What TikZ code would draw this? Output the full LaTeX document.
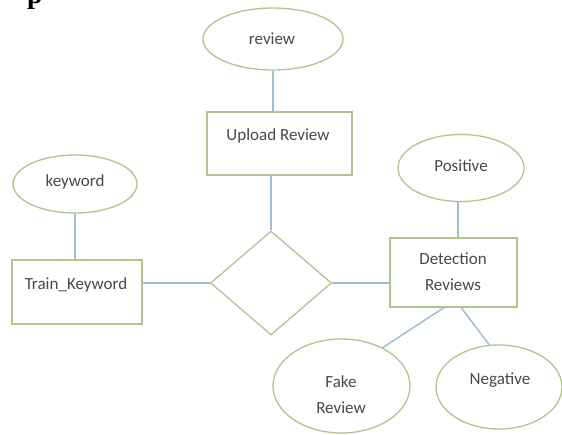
\documentclass[tikz,border=0pt]{standalone}
\usepackage{fontspec}
\setmainfont{Carlito}
\newfontfamily\cutfont{Liberation Serif}
\usepackage{tikz}
\usetikzlibrary{shapes.geometric, calc}
\usepackage{xcolor}
\definecolor{shapegreen}{RGB}{178,196,142}
\definecolor{linkblue}{RGB}{158,190,208}
\definecolor{wordgray}{RGB}{72,72,72}

\begin{document}
\begin{tikzpicture} [x=1pt, y=-1pt,
	entity/.style={draw=shapegreen, line width=1.3pt, rectangle, inner sep=0pt},
	attrib/.style={draw=shapegreen, line width=1.3pt, ellipse, inner sep=0pt},
	relation/.style={draw=shapegreen, line width=1.3pt, diamond, inner sep=0pt},
	word/.style={text=wordgray, font=\fontsize{17}{26}\selectfont, align=center, inner sep=0pt},
	link/.style={draw=linkblue, line width=1.5pt}]
					\useasboundingbox (0, 0) rectangle (562, 434);

					\node [anchor=base west, inner sep=0pt] (cutp) at (27, 3) {\cutfont\bfseries\fontsize{28}{28}\selectfont p};

					\node [attrib, minimum width=140, minimum height=62] (review) at (273, 39) {};
					\node [entity, minimum width=145, minimum height=63] (upload) at (279.5, 143.5) {};
					\node [relation, minimum width=121, minimum height=104] (diam) at (271, 283) {};
					\node [attrib, minimum width=124, minimum height=58] (keyword) at (75, 184) {};
					\node [entity, minimum width=130, minimum height=64] (train) at (77, 292) {};
					\node [attrib, minimum width=126, minimum height=67] (positive) at (461, 168) {};
					\node [entity, minimum width=127, minimum height=69] (detect) at (453.5, 272.5) {};
					\node [attrib, minimum width=137, minimum height=94] (fake) at (341.5, 386) {};
					\node [attrib, minimum width=126, minimum height=84] (negative) at (499, 387) {};

					\node [word] (reviewtxt) at (272, 39) {review};
					\node [word] (uploadtxt) at (278, 136) {Upload Review};
					\node [word] (keywordtxt) at (75, 182) {keyword};
					\node [word] (traintxt) at (76, 285) {Train\_Keyword};
					\node [word] (positivetxt) at (461, 166) {Positive};
					\node [word] (detecttxt) at (453, 272) {Detection\\Reviews};
					\node [word] (faketxt) at (341, 395) {Fake\\Review};
					\node [word] (negativetxt) at (500, 380) {Negative};

					\draw [link] (review.south) -- (review.south |- upload.north);
					\draw [link] (upload.south -| diam.north) -- (diam.north);
					\draw [link] (keyword.south) -- (keyword.south |- train.north);
					\draw [link] (train.east |- diam.west) -- (diam.west);
					\draw [link] (diam.east) -- (diam.east -| detect.west);
					\draw [link] ([xshift=-3pt]positive.south) -- ([xshift=-3pt]positive.south |- detect.north);
					\draw [link] ($(detect.south west)!0.425!(detect.south east)$) -- (fake.43);
					\draw [link] ($(detect.south west)!0.56!(detect.south east)$) -- (negative.103);
				\end{tikzpicture}
\end{document}
